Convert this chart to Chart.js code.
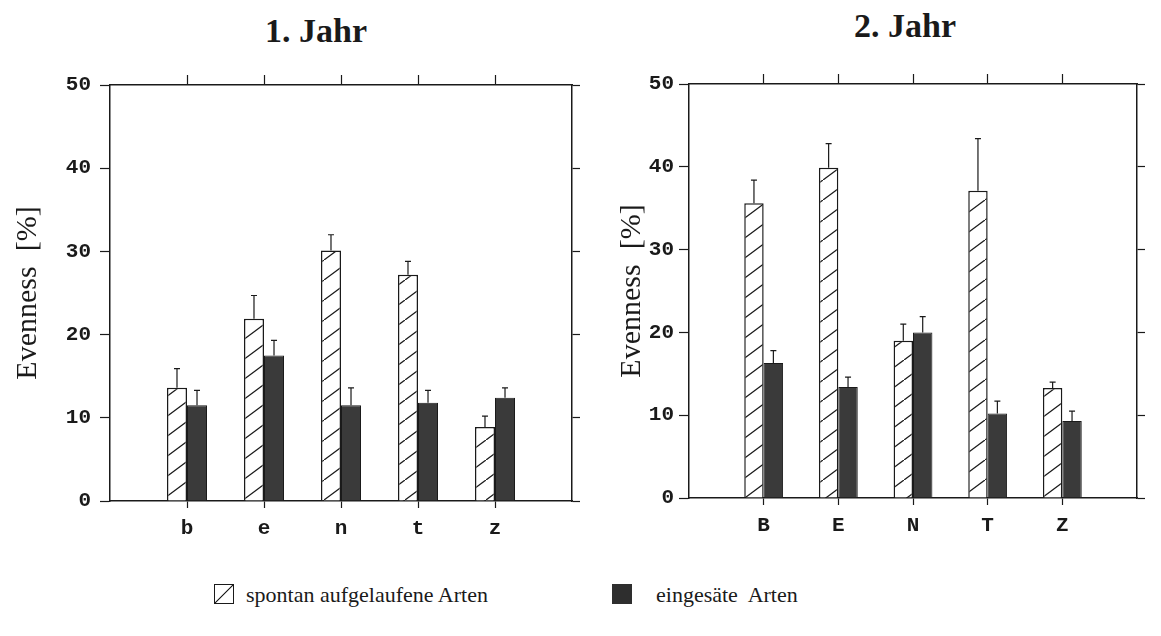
<!DOCTYPE html>
<html>
<head>
<meta charset="utf-8">
<script src="https://cdn.jsdelivr.net/npm/chart.js@4.4.0/dist/chart.umd.min.js"></script>
<style>
  body { margin: 0; background: #fff; width: 1161px; height: 636px; overflow: hidden; position: relative; font-family: "Liberation Serif", serif; color: #1a1a1a; }
  .cw { position: absolute; top: 0; height: 560px; }
  #w1 { left: 0; width: 590px; }
  #w2 { left: 580px; width: 581px; }
  .ttl { position: absolute; font-weight: bold; font-size: 34px; line-height: 34px; transform: translateX(-50%); white-space: nowrap; }
  .lg { position: absolute; font-size: 22px; line-height: 22px; white-space: pre; }
  .box { position: absolute; width: 20px; height: 20px; box-sizing: border-box; }
  .box.h { border: 1.5px solid #1a1a1a; background: linear-gradient(to bottom right, transparent calc(50% - 1px), #1a1a1a 50%, transparent calc(50% + 1px)); }
  .box.d { background: #2e2e2e; }
</style>
</head>
<body>
<div class="ttl" style="left:316px; top:14px">1. Jahr</div>
<div class="ttl" style="left:905px; top:9px">2. Jahr</div>
<div class="cw" id="w1"><canvas id="chart1"></canvas></div>
<div class="cw" id="w2"><canvas id="chart2"></canvas></div>
<div id="legend"></div>
<script>
// Kategorien
const cats1 = ['b', 'e', 'n', 't', 'z'];
const cats2 = ['B', 'E', 'N', 'T', 'Z'];
const seriesNames = ['spontan aufgelaufene Arten', 'eingesäte  Arten'];
const yTicks = [0, 10, 20, 30, 40, 50];

// 1. Jahr: Mittelwert + Fehler (nur nach oben)
const spont1 = [13.6, 21.9, 30.1, 27.2, 8.9];
const spontErr1 = [2.3, 2.8, 1.9, 1.6, 1.3];
const sown1 = [11.5, 17.5, 11.5, 11.8, 12.4];
const sownErr1 = [1.8, 1.8, 2.1, 1.5, 1.2];

// 2. Jahr
const spont2 = [35.6, 39.9, 19.0, 37.1, 13.3];
const spontErr2 = [2.8, 2.9, 2.0, 6.3, 0.7];
const sown2 = [16.3, 13.4, 20.0, 10.2, 9.3];
const sownErr2 = [1.5, 1.2, 1.9, 1.5, 1.2];

const ink = '#1a1a1a';
const monoFont = { family: '"Liberation Mono", monospace', size: 21, weight: 'bold' };

function makeHatch() {
    const w = 27, h = 20;
    const c = document.createElement('canvas');
    c.width = w; c.height = h;
    const g = c.getContext('2d');
    g.fillStyle = '#fff';
    g.fillRect(0, 0, w, h);
    g.strokeStyle = ink;
    g.lineWidth = 1.3;
    [[-w, h], [0, 0], [w, -h]].forEach(([dx, dy]) => {
        g.beginPath();
        g.moveTo(dx, h + dy);
        g.lineTo(w + dx, dy);
        g.stroke();
    });
    return g.createPattern(c, 'repeat');
}
const hatch = makeHatch();

// Fehlerbalken nach oben
const errorBars = {
    id: 'errorBars',
    afterDatasetsDraw(chart) {
        const ctx = chart.ctx, ys = chart.scales.y;
        chart.data.datasets.forEach((ds, i) => {
            chart.getDatasetMeta(i).data.forEach((bar, j) => {
                const v = ds.data[j].y, e = ds.err[j];
                if (v == null || e == null) return;
                const yTop = ys.getPixelForValue(v + e);
                ctx.save();
                ctx.strokeStyle = ink;
                ctx.lineWidth = 1.2;
                ctx.beginPath();
                ctx.moveTo(bar.x, bar.y);
                ctx.lineTo(bar.x, yTop);
                ctx.moveTo(bar.x - 3, yTop);
                ctx.lineTo(bar.x + 3, yTop);
                ctx.stroke();
                ctx.restore();
            });
        });
    }
};

function makeChart(id, cats, spont, spontErr, sown, sownErr, L) {
    // Kategorien auf Positionen 1..n, Achse von 0 bis n+1
    const pts = vals => vals.map((v, i) => ({ x: i + 1, y: v }));
    const catTicks = s => { s.ticks = cats.map((c, i) => ({ value: i + 1 })); };
    const setYTicks = s => { s.ticks = yTicks.map(v => ({ value: v })); };
    const xBase = {
        type: 'linear', min: 0, max: cats.length + 1, offset: false,
        afterBuildTicks: catTicks,
        border: { color: ink, width: 1.5 }
    };
    new Chart(document.getElementById(id), {
        type: 'bar',
        data: {
            datasets: [
                { label: seriesNames[0], data: pts(spont), err: spontErr, xAxisID: 'x', yAxisID: 'y',
                  backgroundColor: hatch, borderColor: ink, borderWidth: 1.5 },
                { label: seriesNames[1], data: pts(sown), err: sownErr, xAxisID: 'x', yAxisID: 'y',
                  backgroundColor: '#3a3a3a', borderColor: ink, borderWidth: 1 }
            ]
        },
        options: {
            responsive: true, maintainAspectRatio: false, animation: false,
            layout: { padding: { top: L.top, bottom: L.bottom, left: 0, right: 0 } },
            datasets: { bar: { categoryPercentage: 0.52, barPercentage: 1 } },
            plugins: { legend: { display: false }, tooltip: { enabled: false } },
            scales: {
                x: Object.assign({}, xBase, {
                    position: 'bottom',
                    grid: { offset: false, drawOnChartArea: false, tickLength: 7, color: ink, tickWidth: 1.2 },
                    ticks: { font: monoFont, color: ink, padding: 8, autoSkip: false, maxRotation: 0,
                             callback: v => cats[v - 1] ?? '' },
                    afterFit: s => { s.height = L.xh; }
                }),
                x2: Object.assign({}, xBase, {
                    position: 'top',
                    grid: { offset: false, drawOnChartArea: false, tickLength: 10, color: ink, tickWidth: 1.2 },
                    ticks: { display: false },
                    afterFit: s => { s.height = 10; }
                }),
                y: {
                    min: 0, max: 50, position: 'left',
                    afterBuildTicks: setYTicks,
                    grid: { drawOnChartArea: false, tickLength: 10, color: ink, tickWidth: 1.2 },
                    border: { color: ink, width: 1.5 },
                    ticks: { font: monoFont, color: ink, padding: L.tpad },
                    title: { display: true, text: 'Evenness  [%]', color: ink,
                             font: { family: '"Liberation Serif", serif', size: 30 },
                             padding: { top: L.titlePad, bottom: 0 } },
                    afterFit: s => { s.width = L.yw; }
                },
                y2: {
                    min: 0, max: 50, position: 'right',
                    afterBuildTicks: setYTicks,
                    grid: { drawOnChartArea: false, tickLength: 8, color: ink, tickWidth: 1.2 },
                    border: { color: ink, width: 1.5 },
                    ticks: { display: false },
                    afterFit: s => { s.width = L.rw; }
                }
            }
        },
        plugins: [errorBars]
    });
}

makeChart('chart1', cats1, spont1, spontErr1, sown1, sownErr1,
    { top: 75, bottom: 19, xh: 40, yw: 110, rw: 18, tpad: 9, titlePad: 10 });
makeChart('chart2', cats2, spont2, spontErr2, sown2, sownErr2,
    { top: 74, bottom: 22, xh: 40, yw: 109, rw: 24, tpad: 5, titlePad: 34 });

// Legende
const legend = document.getElementById('legend');
const items = [
    { cls: 'h', boxX: 214, textX: 246 },
    { cls: 'd', boxX: 612, textX: 656 }
];
items.forEach((it, i) => {
    const b = document.createElement('div');
    b.className = 'box ' + it.cls;
    b.style.left = it.boxX + 'px';
    b.style.top = '584px';
    legend.appendChild(b);
    const t = document.createElement('div');
    t.className = 'lg';
    t.style.left = it.textX + 'px';
    t.style.top = '584px';
    t.textContent = seriesNames[i];
    legend.appendChild(t);
});
</script>
</body>
</html>
